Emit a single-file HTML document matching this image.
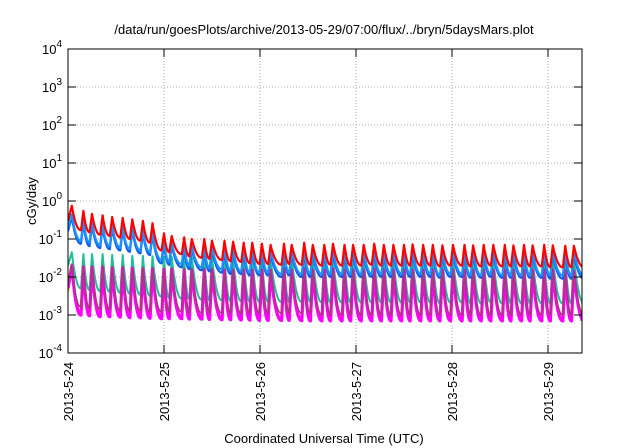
<!DOCTYPE html>
<html><head><meta charset="utf-8"><style>
body{margin:0;background:#fff;}
svg{display:block;font-family:"Liberation Sans",sans-serif;}
</style></head><body>
<svg id="chart" width="640" height="448">
<text x="324" y="34" text-anchor="middle" font-size="13">/data/run/goesPlots/archive/2013-05-29/07:00/flux/../bryn/5daysMars.plot</text>
<text transform="translate(36,201) rotate(-90)" text-anchor="middle" font-size="13">cGy/day</text>
<text x="324" y="443" text-anchor="middle" font-size="13">Coordinated Universal Time (UTC)</text>
<g id="grid"></g><g id="series"></g><g id="axes"></g>
</svg>
<script>
const peakTimes=[0.04,0.16,0.25,0.36,0.46,0.57,0.67,0.78,0.88,1.00,1.08,1.21,1.29,1.42,1.50,1.63,1.72,1.83,1.92,2.02,2.11,2.25,2.33,2.46,2.55,2.67,2.76,2.88,2.97,3.08,3.19,3.29,3.39,3.50,3.59,3.70,3.80,3.90,4.01,4.13,4.22,4.33,4.43,4.55,4.64,4.75,4.84,4.96,5.05,5.18,5.27];
const startValues=[0.3,0.2,0.16,0.02,0.006,0.004,0.005];
const redPeaks=[0.75,0.55,0.46,0.42,0.38,0.36,0.33,0.3,0.26,0.14,0.12,0.11,0.1,0.1,0.09,0.09,0.085,0.08,0.08,0.075,0.07,0.075,0.07,0.08,0.07,0.07,0.075,0.07,0.07,0.07,0.075,0.07,0.07,0.07,0.072,0.07,0.07,0.068,0.07,0.07,0.068,0.07,0.07,0.07,0.068,0.07,0.068,0.07,0.068,0.066,0.066];
const redTroughs=[0.17,0.15,0.13,0.12,0.11,0.1,0.09,0.08,0.05,0.045,0.04,0.035,0.032,0.03,0.028,0.026,0.025,0.023,0.022,0.022,0.021,0.022,0.021,0.021,0.02,0.021,0.02,0.02,0.02,0.021,0.02,0.02,0.02,0.02,0.02,0.02,0.019,0.02,0.02,0.019,0.019,0.02,0.019,0.019,0.019,0.019,0.019,0.018,0.018,0.018,0.018];
const blue1Peaks=[0.45,0.33,0.28,0.25,0.23,0.21,0.2,0.18,0.15,0.09,0.08,0.07,0.065,0.065,0.06,0.06,0.055,0.055,0.055,0.05,0.05,0.05,0.05,0.055,0.05,0.05,0.05,0.05,0.05,0.05,0.05,0.05,0.05,0.05,0.05,0.05,0.05,0.048,0.05,0.05,0.048,0.05,0.05,0.05,0.048,0.05,0.048,0.05,0.048,0.047,0.047];
const blue1Troughs=[0.09,0.08,0.07,0.065,0.06,0.055,0.05,0.045,0.028,0.025,0.022,0.02,0.018,0.017,0.016,0.015,0.014,0.013,0.013,0.013,0.012,0.013,0.012,0.012,0.012,0.012,0.012,0.012,0.012,0.012,0.012,0.012,0.012,0.012,0.012,0.012,0.011,0.012,0.012,0.011,0.011,0.012,0.011,0.011,0.011,0.011,0.011,0.011,0.011,0.011,0.011];
const blue2Peaks=[0.38,0.28,0.24,0.21,0.2,0.18,0.17,0.15,0.13,0.075,0.07,0.06,0.055,0.055,0.05,0.05,0.047,0.046,0.046,0.043,0.042,0.043,0.042,0.046,0.042,0.042,0.043,0.042,0.042,0.042,0.043,0.042,0.042,0.042,0.042,0.042,0.042,0.04,0.042,0.042,0.04,0.042,0.042,0.042,0.04,0.042,0.04,0.042,0.04,0.04,0.04];
const blue2Troughs=[0.075,0.065,0.058,0.054,0.05,0.046,0.042,0.038,0.023,0.021,0.018,0.016,0.015,0.014,0.013,0.012,0.012,0.011,0.011,0.011,0.01,0.011,0.01,0.01,0.01,0.01,0.01,0.01,0.01,0.01,0.01,0.01,0.01,0.01,0.01,0.01,0.0095,0.01,0.01,0.0095,0.0095,0.01,0.0095,0.0095,0.0095,0.0095,0.0095,0.009,0.009,0.009,0.009];
const tealPeaks=[0.045,0.04,0.04,0.04,0.038,0.038,0.036,0.036,0.035,0.034,0.034,0.033,0.033,0.033,0.033,0.032,0.032,0.032,0.032,0.032,0.032,0.033,0.032,0.034,0.032,0.032,0.033,0.032,0.032,0.032,0.033,0.032,0.032,0.032,0.032,0.032,0.032,0.031,0.032,0.032,0.031,0.032,0.032,0.032,0.031,0.032,0.031,0.032,0.031,0.03,0.03];
const tealTroughs=[0.005,0.0045,0.0042,0.004,0.0038,0.0036,0.0034,0.0032,0.003,0.0028,0.0027,0.0026,0.0025,0.0024,0.0024,0.0023,0.0023,0.0022,0.0022,0.0022,0.0022,0.0022,0.0022,0.0022,0.0021,0.0021,0.0021,0.0021,0.0021,0.0021,0.0021,0.0021,0.0021,0.0021,0.0021,0.0021,0.002,0.0021,0.0021,0.002,0.002,0.0021,0.002,0.002,0.002,0.002,0.002,0.002,0.002,0.002,0.002];
const brownPeaks=[0.022,0.02,0.02,0.02,0.019,0.019,0.018,0.018,0.018,0.017,0.017,0.017,0.017,0.017,0.017,0.016,0.016,0.016,0.016,0.016,0.016,0.017,0.016,0.017,0.016,0.016,0.017,0.016,0.016,0.016,0.017,0.016,0.016,0.016,0.016,0.016,0.016,0.016,0.016,0.016,0.016,0.016,0.016,0.016,0.016,0.016,0.016,0.016,0.016,0.015,0.015];
const brownTroughs=[0.0016,0.0015,0.0014,0.0014,0.0013,0.0013,0.0013,0.0012,0.0012,0.0012,0.0012,0.0011,0.0011,0.0011,0.0011,0.0011,0.0011,0.0011,0.0011,0.0011,0.0011,0.0011,0.0011,0.0011,0.001,0.001,0.001,0.001,0.001,0.001,0.001,0.001,0.001,0.001,0.001,0.001,0.001,0.001,0.001,0.001,0.001,0.001,0.001,0.001,0.001,0.001,0.001,0.001,0.001,0.001,0.001];
const yellowPeaks=[0.018,0.017,0.017,0.017,0.016,0.016,0.016,0.015,0.015,0.015,0.015,0.014,0.014,0.014,0.014,0.014,0.014,0.014,0.014,0.014,0.014,0.014,0.014,0.014,0.014,0.014,0.014,0.014,0.014,0.014,0.014,0.014,0.014,0.014,0.014,0.014,0.014,0.014,0.014,0.014,0.014,0.014,0.014,0.014,0.014,0.014,0.014,0.014,0.014,0.013,0.013];
const yellowTroughs=[0.0012,0.0011,0.0011,0.001,0.001,0.001,0.001,0.00095,0.00095,0.0009,0.0009,0.0009,0.0009,0.00085,0.00085,0.00085,0.00085,0.00085,0.0008,0.0008,0.0008,0.0008,0.0008,0.0008,0.0008,0.0008,0.0008,0.0008,0.0008,0.0008,0.0008,0.0008,0.0008,0.0008,0.0008,0.0008,0.0008,0.0008,0.0008,0.0008,0.0008,0.0008,0.0008,0.0008,0.0008,0.0008,0.0008,0.0008,0.0008,0.0008,0.0008];
const magentaPeaks=[0.02,0.018,0.018,0.018,0.017,0.017,0.017,0.016,0.016,0.016,0.016,0.015,0.015,0.015,0.015,0.015,0.015,0.015,0.015,0.015,0.015,0.016,0.015,0.016,0.015,0.015,0.016,0.015,0.015,0.015,0.016,0.015,0.015,0.015,0.015,0.015,0.015,0.015,0.015,0.015,0.015,0.015,0.015,0.015,0.015,0.015,0.015,0.015,0.015,0.014,0.014];
const magentaTroughs=[0.001,0.00095,0.0009,0.0009,0.00088,0.00085,0.00085,0.00082,0.0008,0.0008,0.0008,0.00078,0.00078,0.00076,0.00075,0.00075,0.00074,0.00073,0.00072,0.00072,0.00072,0.00072,0.00071,0.0007,0.0007,0.0007,0.0007,0.0007,0.0007,0.0007,0.0007,0.0007,0.0007,0.0007,0.0007,0.0007,0.0007,0.0007,0.0007,0.0007,0.0007,0.0007,0.0007,0.0007,0.0007,0.0007,0.0007,0.0007,0.0007,0.0007,0.0007];
const xTickLabels=["2013-5-24","2013-5-25","2013-5-26","2013-5-27","2013-5-28","2013-5-29"];
const yExponents=[-4,-3,-2,-1,0,1,2,3,4];
const X0=68,X1=582,Y0=49,Y1=353,DAY=96,XMAX=(X1-X0)/DAY;
const xs=d=>X0+d*DAY;
const ys=v=>Y1-(Math.log10(v)+4)*(Y1-Y0)/8;
const NS="http://www.w3.org/2000/svg";
function mk(tag,attrs,parent){const e=document.createElementNS(NS,tag);for(const k in attrs)e.setAttribute(k,attrs[k]);parent.appendChild(e);return e;}
const grid=document.getElementById('grid'),axes=document.getElementById('axes'),ser=document.getElementById('series');
yExponents.forEach(p=>{const y=ys(Math.pow(10,p));
 if(p>-4&&p<4){const g=mk('line',{x1:X0,x2:X1,y1:y,y2:y,stroke:'#aaa','stroke-dasharray':'1,2','stroke-width':1},grid);
 
 }
 const t1=mk('line',{x1:X0,x2:X0+8,y1:y,y2:y,stroke:'#000'},axes);
 const t2=mk('line',{x1:X1-8,x2:X1,y1:y,y2:y,stroke:'#000'},axes);
 const t=mk('text',{x:X0-6,y:y+5,'text-anchor':'end','font-size':13},axes);
 
 
 t.textContent='10';const s=mk('tspan',{dy:-7,'font-size':10},t);s.textContent=String(p);
});
xTickLabels.forEach((lab,i)=>{const x=xs(i);
 if(i>0){const g=mk('line',{x1:x,x2:x,y1:Y0,y2:Y1,stroke:'#aaa','stroke-dasharray':'1,2','stroke-width':1},grid);
 
 }
 mk('line',{x1:x,x2:x,y1:Y1,y2:Y1-8,stroke:'#000'},axes);
 mk('line',{x1:x,x2:x,y1:Y0,y2:Y0+8,stroke:'#000'},axes);
 const t=mk('text',{transform:`translate(${x+5},${Y1+9}) rotate(-90)`,'text-anchor':'end','font-size':13},axes);
 
 
 t.textContent=lab;
});
const fr=mk('rect',{x:X0,y:Y0,width:X1-X0,height:Y1-Y0,fill:'none',stroke:'#000','stroke-width':1},axes);


function drawSeries(name,peaks,troughs,start,color,w){
 let pts=[[xs(0),ys(start)]];
 for(let i=0;i<peakTimes.length;i++){
  const t0=peakTimes[i],t1=i+1<peakTimes.length?peakTimes[i+1]:XMAX+0.05;
  const p=peaks[i],q=troughs[i];
  pts.push([xs(t0),ys(p)]);
  const n=14;
  for(let k=1;k<=n;k++){const f=k/n;const g=1-Math.pow(1-f,2.2);const tt=t0+(t1-t0-0.025)*f;
   pts.push([xs(Math.min(tt,XMAX)),ys(p*Math.pow(q/p,g))]);}
 }
 const d='M'+pts.map(p=>p[0].toFixed(1)+','+p[1].toFixed(1)).join('L');
 const path=mk('path',{d:d,fill:'none',stroke:color,'stroke-width':w,'stroke-linejoin':'round','clip-path':'url(#clip)'},ser);
 
 
}
const defs=mk('defs',{},document.getElementById('chart'));
const cp=mk('clipPath',{id:'clip'},defs);mk('rect',{x:X0,y:Y0,width:X1-X0,height:Y1-Y0},cp);
drawSeries('series-teal',tealPeaks,tealTroughs,startValues[3],'#1fbf9a',2);
drawSeries('series-yellow',yellowPeaks,yellowTroughs,startValues[5],'#e8c000',2);
drawSeries('series-magenta',magentaPeaks,magentaTroughs,startValues[6],'#ff00ff',3.2);
drawSeries('series-brown',brownPeaks,brownTroughs,startValues[4],'#a0406a',1.5);
drawSeries('series-blue-dark',blue2Peaks,blue2Troughs,startValues[2],'#1060f0',2.2);
drawSeries('series-blue',blue1Peaks,blue1Troughs,startValues[1],'#1e90ff',2.2);
drawSeries('series-red',redPeaks,redTroughs,startValues[0],'#ff0000',2.2);
</script>
</body></html>
